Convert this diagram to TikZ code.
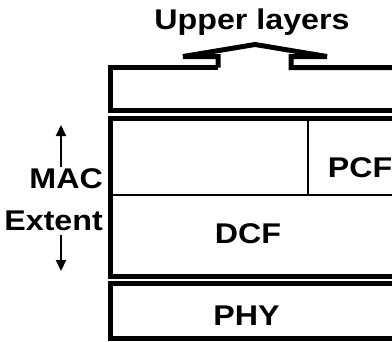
\documentclass[tikz,border=0pt]{standalone}
\usepackage{fontspec}
\newfontfamily\lblfont[FakeStretch=1.13]{Liberation Sans}
\usetikzlibrary{arrows.meta}
\begin{document}
\begin{tikzpicture}[x=1pt,y=-1pt,
  frame/.style={line width=5pt,line join=miter,miter limit=10},
  thin/.style={line width=1.3pt},
  lbl/.style={font=\lblfont\bfseries\fontsize{28.5}{34}\selectfont,inner sep=0pt},
  ext/.style={line width=2.2pt,-{Triangle[length=11pt,width=10pt]}}]
\useasboundingbox (0,0) rectangle (392,341);
\clip (0,0) rectangle (392,341);
% top box with upper-layers arrow
\draw[frame] (218,67.5) -- (218,56.5) -- (183,56.5) -- (255,44.5) -- (327,56.5) -- (291,56.5) -- (291,67.5) -- (400,67.5);
\draw[frame] (218,67.5) -- (110.5,67.5) -- (110.5,110.5) -- (400,110.5);
% MAC box
\draw[frame] (400,118.5) -- (110.5,118.5) -- (110.5,276.5) -- (400,276.5);
\draw[thin] (113,195) -- (400,195);
\draw[thin] (308,121) -- (308,195);
% PHY box
\draw[frame] (400,283.5) -- (110.5,283.5) -- (110.5,338.5) -- (400,338.5);
% labels
\node[lbl,anchor=base] (upper) at (252,29) {Upper layers};
\node[lbl,anchor=base east] (mac) at (103,188) {MAC};
\node[lbl,anchor=base east] (extent) at (103,230) {Extent};
\node[lbl,anchor=base] (pcf) at (360,177) {PCF};
\node[lbl,anchor=base] (dcf) at (248,243) {DCF};
\node[lbl,anchor=base] (phy) at (246.5,325) {PHY};
% MAC extent arrows
\coordinate (upS) at (61,167);
\coordinate (upE) at (61,125);
\coordinate (dnS) at (61,235);
\coordinate (dnE) at (61,271);
\draw[ext] (upS) -- (upE);
\draw[ext] (dnS) -- (dnE);
\end{tikzpicture}
\end{document}
